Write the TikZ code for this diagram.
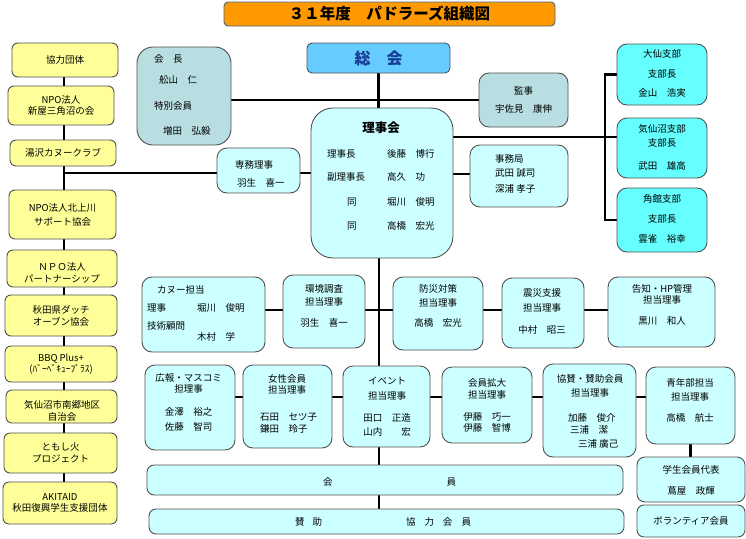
\documentclass[tikz,border=0pt]{standalone}
\usepackage{fontspec}
\setmainfont{Noto Sans CJK JP}
\usetikzlibrary{backgrounds}
\definecolor{yel}{RGB}{255,255,153}
\definecolor{lcy}{RGB}{204,255,255}
\definecolor{gcy}{RGB}{185,222,225}
\definecolor{scy}{RGB}{102,255,255}
\definecolor{sky}{RGB}{102,204,255}
\definecolor{org}{RGB}{255,153,0}
\definecolor{bord}{RGB}{80,80,80}
\definecolor{titleb}{RGB}{70,100,140}
\definecolor{navy}{RGB}{26,60,150}
\newcommand\fs{\fontsize{9.5}{11.5}\selectfont}
\begin{document}
\begin{tikzpicture}[x=1pt,y=-1pt,
  base/.style={draw=bord, line width=0.9pt, inner sep=0pt, align=center, font=\fs},
  ybox/.style={base, fill=yel, rounded corners=6pt},
  cbox/.style={base, fill=lcy, rounded corners=10pt},
  gbox/.style={base, fill=gcy, rounded corners=14pt},
  sbox/.style={base, fill=scy, rounded corners=10pt},
  txt/.style={inner sep=0pt, align=center, font=\fs},
  ltxt/.style={inner sep=0pt, align=left, font=\fs, anchor=west},
  conn/.style={line width=2.4pt, black},
  sz/.style 2 args={minimum width=#1pt, minimum height=#2pt},
]
\useasboundingbox (0,0) rectangle (746,538);

% coordinates for connector levels
\coordinate (spine) at (64,0);
\coordinate (ysen) at (0,173);
\coordinate (ybr) at (0,137);
\coordinate (br) at (605,0);
\coordinate (main) at (379,0);
\coordinate (r1) at (0,310);
\coordinate (r2) at (0,397);

% title
\node[base, fill=org, draw=titleb, rounded corners=4pt, sz={331}{24}, font=\bfseries\fontsize{15.5}{18}\selectfont] (title) at (389.5,14) {３１年度　パドラーズ組織図};

% left column
\node[ybox, sz={106}{34}] (k1) at (65,60) {協力団体};
\node[ybox, sz={106}{39}] (k2) at (61,105.5) {NPO法人\\新屋三角沼の会};
\node[ybox, sz={106}{26}] (k3) at (63,153) {湯沢カヌークラブ};
\node[ybox, sz={107}{49}] (k4) at (62.5,214.5) {NPO法人北上川\\[2.5pt]サポート協会};
\node[ybox, sz={110}{37}] (k5) at (62,268.5) {};
\node[txt] (k5t) at (62,273) {ＮＰＯ法人\\パートナーシップ};
\node[ybox, sz={112}{41}] (k6) at (61,315.5) {秋田県ダッチ\\[0.5pt]オーブン協会};
\node[ybox, sz={112}{36}] (k7) at (61,364) {BBQ Plus+\\(ﾊﾞｰﾍﾞｷｭｰﾌﾟﾗｽ)};
\node[ybox, sz={111}{33}] (k8) at (61.5,406.5) {};
\node[txt] (k8t) at (62,411) {気仙沼市南郷地区\\自治会};
\node[ybox, sz={113}{40}] (k9) at (60.5,453) {ともし火\\プロジェクト};
\node[ybox, sz={114}{42}] (k10) at (60,503) {AKITAID\\秋田復興学生支援団体};

% top
\node[base, fill=sky, rounded corners=5pt, sz={143}{30}, font=\bfseries\fontsize{16}{18}\selectfont, text=navy] (sokai) at (378.5,58) {総　会};

\node[gbox, rounded corners=16pt, sz={94}{98}] (kaicho) at (184,96) {};
\node[ltxt] (kaicho-t) at (154,95) {会　長\\[9.5pt]\hspace*{5pt}舩山　仁\\[14.5pt]特別会員\\[13.5pt]\hspace*{9pt}増田　弘毅};

\node[gbox, rounded corners=10pt, sz={89}{54}] (kanji) at (523.5,100) {};
\node[txt] (kanji-t) at (523.5,100) {監事\\[6.5pt]宇佐見　康伸};

\node[cbox, rounded corners=22pt, sz={142}{150}] (rijikai) at (382,183) {};
\node[txt, font=\bfseries\fontsize{12.5}{14}\selectfont] (rijikai-t) at (381,128) {理事会};
\node[ltxt] (rijikai-l) at (327,190) {理事長\\[11.5pt]副理事長\\[13.5pt]\hspace*{20pt}同\\[12.5pt]\hspace*{20pt}同};
\node[ltxt] (rijikai-n) at (387,190) {後藤　博行\\[11.5pt]高久　功\\[13.5pt]堀川　俊明\\[12.5pt]高橋　宏光};

\node[cbox, sz={83}{45}] (senmu) at (258.5,170.5) {};
\node[ltxt] (senmu-t) at (235,174) {専務理事\\[6.5pt]\hspace*{2pt}羽生　喜一};

\node[cbox, sz={98}{62}] (jimu) at (519,176) {};
\node[ltxt] (jimu-t) at (495,174) {事務局\\[2.5pt]武田 誠司\\[4.5pt]深浦 孝子};

% branches
\node[sbox, sz={90}{61}] (daisen) at (662,74.5) {};
\node[txt] (daisen-t) at (662,73.5) {大仙支部\\[8.5pt]支部長\\[7.5pt]金山　浩実};
\node[sbox, sz={90}{60}] (kesen) at (662,148) {};
\node[txt] (kesen-t) at (662,147.5) {気仙沼支部\\[2.5pt]支部長\\[11.5pt]武田　雄高};
\node[sbox, sz={90}{64}] (kakuno) at (662,220) {};
\node[txt] (kakuno-t) at (662,219) {角館支部\\[8.5pt]支部長\\[8.5pt]雲雀　裕幸};

% row 1
\node[cbox, sz={123}{75}] (kanu) at (203.5,314.5) {};
\node[ltxt] (kanu-t1) at (157,290) {カヌー担当};
\node[ltxt] (kanu-t2) at (147,308) {理事};
\node[ltxt] (kanu-t3) at (197,308) {堀川　俊明};
\node[ltxt] (kanu-t4) at (147,326) {技術顧問};
\node[ltxt] (kanu-t5) at (197,337) {木村　学};

\node[cbox, sz={82}{73}] (kankyo) at (324,311.5) {};
\node[txt] (kankyo-t) at (324,306) {環境調査\\[1.5pt]担当理事\\[9.5pt]羽生　喜一};
\node[cbox, sz={90}{73}] (bousai) at (438,313.5) {};
\node[txt] (bousai-t) at (438,306) {防災対策\\[2.5pt]担当理事\\[8.5pt]高橋　宏光};
\node[cbox, sz={82}{70}] (shinsai) at (543,313) {};
\node[txt] (shinsai-t) at (542,311.5) {震災支援\\[3.5pt]担当理事\\[10.5pt]中村　昭三};
\node[cbox, sz={107}{70}] (kokuchi) at (661.5,312) {};
\node[txt] (kokuchi-t) at (662,305) {告知・HP管理\\担当理事\\[9.5pt]黒川　和人};

% row 2
\node[cbox, sz={90}{85}] (kouhou) at (190,407.5) {};
\node[txt] (kouhou-t) at (188.5,402.5) {広報・マスコミ\\担理事\\[11.5pt]金澤　裕之\\[3.5pt]佐藤　智司};
\node[cbox, sz={89}{83}] (josei) at (287.5,406.5) {};
\node[txt] (josei-t) at (287,384.5) {女性会員\\担当理事};
\node[ltxt] (josei-n) at (260,423) {石田　セツ子\\[0.5pt]鎌田　玲子};
\node[cbox, sz={87}{81}] (event) at (386.5,406.5) {};
\node[txt] (event-t) at (387,406.5) {イベント\\[3.5pt]担当理事\\[10.5pt]田口　正造\\[2.5pt]山内　　宏};
\node[cbox, sz={90}{76}] (kakudai) at (487,405) {};
\node[txt] (kakudai-t) at (487,405.5) {会員拡大\\担当理事\\[10.5pt]伊藤　巧一\\伊藤　智博};
\node[cbox, sz={93}{93}] (kyosan) at (589.5,410.5) {};
\node[txt] (kyosan-t) at (590,386) {協賛・賛助会員\\[2.5pt]担当理事};
\node[ltxt] (kyosan-n) at (568,431) {加藤　俊介\\[0.5pt]\hspace*{2pt}三浦　潔\\[2.5pt]\hspace*{10pt}三浦 廣己};
\node[cbox, sz={89}{77}] (seinen) at (690.5,405.5) {};
\node[txt] (seinen-t) at (690,400.5) {青年部担当\\[2.5pt]担当理事\\[9.5pt]高橋　航士};
\node[cbox, rounded corners=8pt, sz={108}{45}] (gakusei) at (691,479.5) {};
\node[txt] (gakusei-t) at (691,480.5) {学生会員代表\\[9.5pt]蔦屋　政輝};
\node[cbox, rounded corners=7pt, sz={108}{32}] (volun) at (691,521) {ボランティア会員};

% member bars
\node[cbox, rounded corners=7pt, sz={476}{30}] (kaiin) at (385,480) {};
\node[txt] (kaiin-t) at (389.5,482) {会\hspace{114pt}員};
\node[cbox, rounded corners=7pt, sz={475}{25}] (sanjo) at (386.5,521.5) {};
\node[txt] (sanjo-t) at (383,522) {賛\hspace{8pt}助\hspace{84pt}協\hspace{9pt}力\hspace{9pt}会\hspace{9pt}員};

% connectors
\begin{scope}[on background layer]
\draw[conn] (k1.south -| spine) -- (k10.north -| spine);
\draw[conn] (spine |- ysen) -- (rijikai.west |- ysen);
\draw[conn] (sokai.south) -- (sokai.south |- rijikai.north);
\draw[conn] (kaicho.east |- kanji.west) -- (kanji.west);
\draw[conn] (rijikai.east |- ybr) -- (kesen.west |- ybr);
\draw[conn] (daisen.west) -- (daisen.west -| br) -- (kakuno.west -| br) -- (kakuno.west);
\draw[conn] (rijikai.east |- jimu-t.west) -- (jimu.west |- jimu-t.west);
\draw[conn] (rijikai.south -| main) -- (sanjo.north -| main);
\draw[conn] (kanu.east |- r1) -- (kokuchi.west |- r1);
\draw[conn] (kouhou.east |- r2) -- (seinen.west |- r2);
\draw[conn] (seinen.south) -- (seinen.south |- gakusei.north);
\end{scope}
\end{tikzpicture}
\end{document}
